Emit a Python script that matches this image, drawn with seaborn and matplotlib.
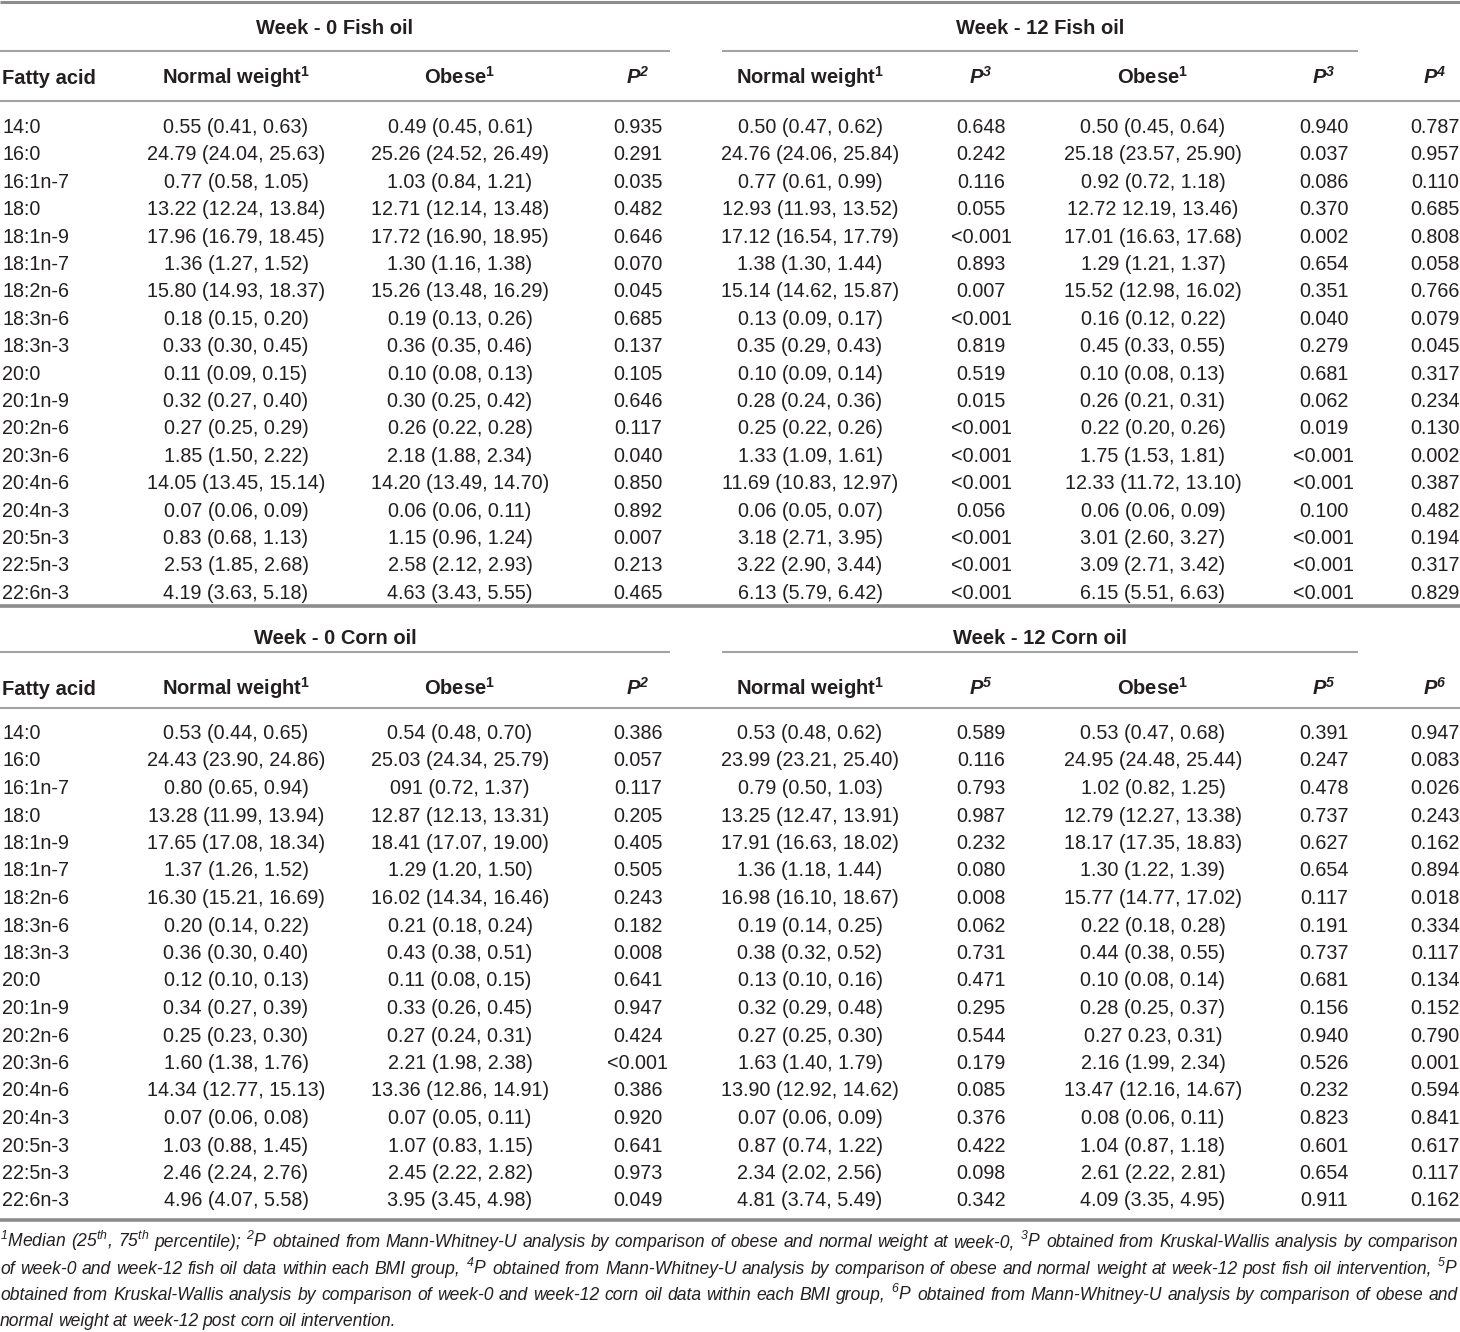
import matplotlib
matplotlib.use("Agg")
import matplotlib.pyplot as plt
from matplotlib import font_manager
import seaborn as sns

# ---- table data -------------------------------------------------------------
fatty_acids = ["14:0", "16:0", "16:1n-7", "18:0", "18:1n-9", "18:1n-7", "18:2n-6",
               "18:3n-6", "18:3n-3", "20:0", "20:1n-9", "20:2n-6", "20:3n-6",
               "20:4n-6", "20:4n-3", "20:5n-3", "22:5n-3", "22:6n-3"]

fish_w0_normal = ["0.55 (0.41, 0.63)", "24.79 (24.04, 25.63)", "0.77 (0.58, 1.05)",
                  "13.22 (12.24, 13.84)", "17.96 (16.79, 18.45)", "1.36 (1.27, 1.52)",
                  "15.80 (14.93, 18.37)", "0.18 (0.15, 0.20)", "0.33 (0.30, 0.45)",
                  "0.11 (0.09, 0.15)", "0.32 (0.27, 0.40)", "0.27 (0.25, 0.29)",
                  "1.85 (1.50, 2.22)", "14.05 (13.45, 15.14)", "0.07 (0.06, 0.09)",
                  "0.83 (0.68, 1.13)", "2.53 (1.85, 2.68)", "4.19 (3.63, 5.18)"]
fish_w0_obese = ["0.49 (0.45, 0.61)", "25.26 (24.52, 26.49)", "1.03 (0.84, 1.21)",
                 "12.71 (12.14, 13.48)", "17.72 (16.90, 18.95)", "1.30 (1.16, 1.38)",
                 "15.26 (13.48, 16.29)", "0.19 (0.13, 0.26)", "0.36 (0.35, 0.46)",
                 "0.10 (0.08, 0.13)", "0.30 (0.25, 0.42)", "0.26 (0.22, 0.28)",
                 "2.18 (1.88, 2.34)", "14.20 (13.49, 14.70)", "0.06 (0.06, 0.11)",
                 "1.15 (0.96, 1.24)", "2.58 (2.12, 2.93)", "4.63 (3.43, 5.55)"]
fish_p2 = ["0.935", "0.291", "0.035", "0.482", "0.646", "0.070", "0.045", "0.685", "0.137",
           "0.105", "0.646", "0.117", "0.040", "0.850", "0.892", "0.007", "0.213", "0.465"]
fish_w12_normal = ["0.50 (0.47, 0.62)", "24.76 (24.06, 25.84)", "0.77 (0.61, 0.99)",
                   "12.93 (11.93, 13.52)", "17.12 (16.54, 17.79)", "1.38 (1.30, 1.44)",
                   "15.14 (14.62, 15.87)", "0.13 (0.09, 0.17)", "0.35 (0.29, 0.43)",
                   "0.10 (0.09, 0.14)", "0.28 (0.24, 0.36)", "0.25 (0.22, 0.26)",
                   "1.33 (1.09, 1.61)", "11.69 (10.83, 12.97)", "0.06 (0.05, 0.07)",
                   "3.18 (2.71, 3.95)", "3.22 (2.90, 3.44)", "6.13 (5.79, 6.42)"]
fish_p3_normal = ["0.648", "0.242", "0.116", "0.055", "<0.001", "0.893", "0.007", "<0.001",
                  "0.819", "0.519", "0.015", "<0.001", "<0.001", "<0.001", "0.056",
                  "<0.001", "<0.001", "<0.001"]
fish_w12_obese = ["0.50 (0.45, 0.64)", "25.18 (23.57, 25.90)", "0.92 (0.72, 1.18)",
                  "12.72 12.19, 13.46)", "17.01 (16.63, 17.68)", "1.29 (1.21, 1.37)",
                  "15.52 (12.98, 16.02)", "0.16 (0.12, 0.22)", "0.45 (0.33, 0.55)",
                  "0.10 (0.08, 0.13)", "0.26 (0.21, 0.31)", "0.22 (0.20, 0.26)",
                  "1.75 (1.53, 1.81)", "12.33 (11.72, 13.10)", "0.06 (0.06, 0.09)",
                  "3.01 (2.60, 3.27)", "3.09 (2.71, 3.42)", "6.15 (5.51, 6.63)"]
fish_p3_obese = ["0.940", "0.037", "0.086", "0.370", "0.002", "0.654", "0.351", "0.040",
                 "0.279", "0.681", "0.062", "0.019", "<0.001", "<0.001", "0.100",
                 "<0.001", "<0.001", "<0.001"]
fish_p4 = ["0.787", "0.957", "0.110", "0.685", "0.808", "0.058", "0.766", "0.079", "0.045",
           "0.317", "0.234", "0.130", "0.002", "0.387", "0.482", "0.194", "0.317", "0.829"]

corn_w0_normal = ["0.53 (0.44, 0.65)", "24.43 (23.90, 24.86)", "0.80 (0.65, 0.94)",
                  "13.28 (11.99, 13.94)", "17.65 (17.08, 18.34)", "1.37 (1.26, 1.52)",
                  "16.30 (15.21, 16.69)", "0.20 (0.14, 0.22)", "0.36 (0.30, 0.40)",
                  "0.12 (0.10, 0.13)", "0.34 (0.27, 0.39)", "0.25 (0.23, 0.30)",
                  "1.60 (1.38, 1.76)", "14.34 (12.77, 15.13)", "0.07 (0.06, 0.08)",
                  "1.03 (0.88, 1.45)", "2.46 (2.24, 2.76)", "4.96 (4.07, 5.58)"]
corn_w0_obese = ["0.54 (0.48, 0.70)", "25.03 (24.34, 25.79)", "091 (0.72, 1.37)",
                 "12.87 (12.13, 13.31)", "18.41 (17.07, 19.00)", "1.29 (1.20, 1.50)",
                 "16.02 (14.34, 16.46)", "0.21 (0.18, 0.24)", "0.43 (0.38, 0.51)",
                 "0.11 (0.08, 0.15)", "0.33 (0.26, 0.45)", "0.27 (0.24, 0.31)",
                 "2.21 (1.98, 2.38)", "13.36 (12.86, 14.91)", "0.07 (0.05, 0.11)",
                 "1.07 (0.83, 1.15)", "2.45 (2.22, 2.82)", "3.95 (3.45, 4.98)"]
corn_p2 = ["0.386", "0.057", "0.117", "0.205", "0.405", "0.505", "0.243", "0.182", "0.008",
           "0.641", "0.947", "0.424", "<0.001", "0.386", "0.920", "0.641", "0.973", "0.049"]
corn_w12_normal = ["0.53 (0.48, 0.62)", "23.99 (23.21, 25.40)", "0.79 (0.50, 1.03)",
                   "13.25 (12.47, 13.91)", "17.91 (16.63, 18.02)", "1.36 (1.18, 1.44)",
                   "16.98 (16.10, 18.67)", "0.19 (0.14, 0.25)", "0.38 (0.32, 0.52)",
                   "0.13 (0.10, 0.16)", "0.32 (0.29, 0.48)", "0.27 (0.25, 0.30)",
                   "1.63 (1.40, 1.79)", "13.90 (12.92, 14.62)", "0.07 (0.06, 0.09)",
                   "0.87 (0.74, 1.22)", "2.34 (2.02, 2.56)", "4.81 (3.74, 5.49)"]
corn_p5_normal = ["0.589", "0.116", "0.793", "0.987", "0.232", "0.080", "0.008", "0.062",
                  "0.731", "0.471", "0.295", "0.544", "0.179", "0.085", "0.376", "0.422",
                  "0.098", "0.342"]
corn_w12_obese = ["0.53 (0.47, 0.68)", "24.95 (24.48, 25.44)", "1.02 (0.82, 1.25)",
                  "12.79 (12.27, 13.38)", "18.17 (17.35, 18.83)", "1.30 (1.22, 1.39)",
                  "15.77 (14.77, 17.02)", "0.22 (0.18, 0.28)", "0.44 (0.38, 0.55)",
                  "0.10 (0.08, 0.14)", "0.28 (0.25, 0.37)", "0.27 0.23, 0.31)",
                  "2.16 (1.99, 2.34)", "13.47 (12.16, 14.67)", "0.08 (0.06, 0.11)",
                  "1.04 (0.87, 1.18)", "2.61 (2.22, 2.81)", "4.09 (3.35, 4.95)"]
corn_p5_obese = ["0.391", "0.247", "0.478", "0.737", "0.627", "0.654", "0.117", "0.191",
                 "0.737", "0.681", "0.156", "0.940", "0.526", "0.232", "0.823", "0.601",
                 "0.654", "0.911"]
corn_p6 = ["0.947", "0.083", "0.026", "0.243", "0.162", "0.894", "0.018", "0.334", "0.117",
           "0.134", "0.152", "0.790", "0.001", "0.594", "0.841", "0.617", "0.117", "0.162"]

fish_headers = ["Fatty acid", "Normal weight$^{1}$", "Obese$^{1}$", "P$^{2}$",
                "Normal weight$^{1}$", "P$^{3}$", "Obese$^{1}$", "P$^{3}$", "P$^{4}$"]
corn_headers = ["Fatty acid", "Normal weight$^{1}$", "Obese$^{1}$", "P$^{2}$",
                "Normal weight$^{1}$", "P$^{5}$", "Obese$^{1}$", "P$^{5}$", "P$^{6}$"]

footnote_lines = [
    "$^{1}$Median (25$^{th}$, 75$^{th}$ percentile); $^{2}$P obtained from Mann-Whitney-U analysis by comparison of obese and normal weight at week-0, $^{3}$P obtained from Kruskal-Wallis analysis by comparison",
    "of week-0 and week-12 fish oil data within each BMI group, $^{4}$P obtained from Mann-Whitney-U analysis by comparison of obese and normal weight at week-12 post fish oil intervention, $^{5}$P",
    "obtained from Kruskal-Wallis analysis by comparison of week-0 and week-12 corn oil data within each BMI group, $^{6}$P obtained from Mann-Whitney-U analysis by comparison of obese and",
    "normal weight at week-12 post corn oil intervention.",
]

# ---- style / layout ---------------------------------------------------------
sns.set_theme(style="white")
plt.rcParams["font.family"] = ["Liberation Sans", "DejaVu Sans"]
plt.rcParams["mathtext.default"] = "regular"

# condensed face for the footnote when available
try:
    font_manager.findfont("Liberation Sans Narrow", fallback_to_default=False)
    note_family = ["Liberation Sans Narrow", "Liberation Sans"]
except ValueError:
    note_family = ["Liberation Sans", "DejaVu Sans"]

W, H = 1460, 1332
FS = 14.2
FS_HEAD = 14.5
TXT = "#231f20"
LINE = "#a3a3a3"
col_x = [2, 236, 460, 638, 810, 981, 1153, 1324, 1435]

fig = plt.figure(figsize=(W / 100, H / 100), dpi=100)
ax = fig.add_axes([0, 0, 1, 1])
ax.set_xlim(0, W)
ax.set_ylim(H, 0)
ax.axis("off")


def hline(y, x0=0, x1=W, lw=1.5, color=LINE):
    ax.plot([x0, x1], [y, y], color=color, lw=lw, solid_capstyle="butt")


def section(title_left, title_right, headers, columns, y_title, y_part, y_head,
            y_rule, y_first, step, y_end):
    ax.text(335, y_title + 7, title_left, ha="center", va="baseline",
            fontsize=FS_HEAD, fontweight="bold", color=TXT)
    ax.text(1040, y_title + 7, title_right, ha="center", va="baseline",
            fontsize=FS_HEAD, fontweight="bold", color=TXT)
    hline(y_part, 0, 670)
    hline(y_part, 722, 1358)
    for j, h in enumerate(headers):
        style = "italic" if h.startswith("P$") else "normal"
        ax.text(col_x[j], y_head + 7, h, ha="left" if j == 0 else "center",
                va="baseline", fontsize=FS_HEAD, fontweight="bold", fontstyle=style,
                color=TXT)
    hline(y_rule)
    for i in range(len(fatty_acids)):
        yb = y_first + i * step + 7
        for j, col in enumerate(columns):
            ax.text(col_x[j], yb, col[i], ha="left" if j == 0 else "center",
                    va="baseline", fontsize=FS, color=TXT)
    hline(y_end, lw=2.6, color="#8c8c8c")


hline(1.5, lw=2.2, color="#8c8c8c")
section("Week - 0 Fish oil", "Week - 12 Fish oil", fish_headers,
        [fatty_acids, fish_w0_normal, fish_w0_obese, fish_p2, fish_w12_normal,
         fish_p3_normal, fish_w12_obese, fish_p3_obese, fish_p4],
        27, 51, 77, 101, 126, 27.4, 606)
section("Week - 0 Corn oil", "Week - 12 Corn oil", corn_headers,
        [fatty_acids, corn_w0_normal, corn_w0_obese, corn_p2, corn_w12_normal,
         corn_p5_normal, corn_w12_obese, corn_p5_obese, corn_p6],
        637, 652, 688, 708, 732, 27.5, 1220)

# footnote: size it so the first line nearly fills the width, then justify
renderer = fig.canvas.get_renderer()
probe_fs = 12.0
probe = ax.text(0, 0, footnote_lines[0], fontsize=probe_fs, fontstyle="italic",
                family=note_family)
natural = probe.get_window_extent(renderer).width
probe.remove()
FN = min(probe_fs * 1440 / natural, 14.5)

for k, line in enumerate(footnote_lines):
    yb = 1247 + k * 26.5
    words = line.split(" ")
    texts = [ax.text(0, yb, w, ha="left", va="baseline", fontsize=FN,
                     fontstyle="italic", family=note_family, color=TXT)
             for w in words]
    widths = [t.get_window_extent(renderer).width for t in texts]
    space = FN * 100 / 72 * 0.25
    if k < len(footnote_lines) - 1 and len(words) > 1:
        space = (1458 - sum(widths)) / (len(words) - 1)
    x = 0
    for t, w in zip(texts, widths):
        t.set_x(x)
        x += w + space

fig.savefig("out.png", dpi=100, facecolor="white")
